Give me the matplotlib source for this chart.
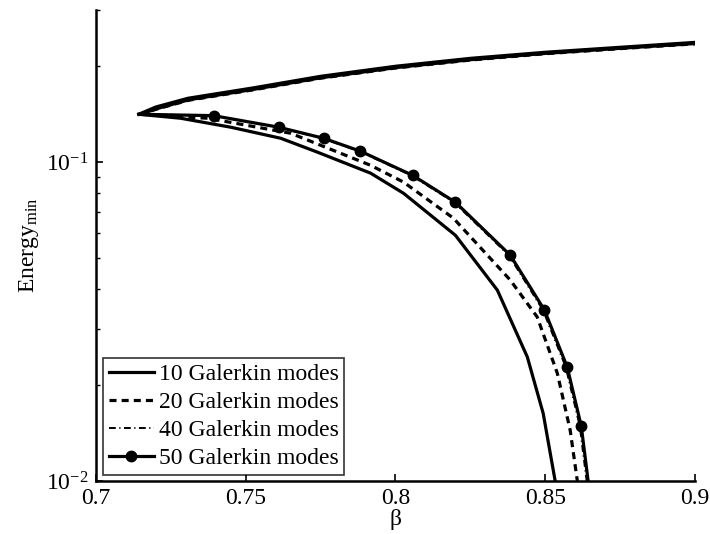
import matplotlib
matplotlib.use("Agg")
import matplotlib.pyplot as plt
from matplotlib.ticker import FixedLocator, LogLocator, NullFormatter

plt.rcParams['font.family'] = ['Liberation Serif', 'DejaVu Serif']
plt.rcParams['mathtext.fontset'] = 'custom'
plt.rcParams['mathtext.rm'] = 'Liberation Serif'
plt.rcParams['mathtext.it'] = 'Liberation Serif:italic'

# ---- data ----
beta_10 = [0.7143, 0.7283, 0.745, 0.7617, 0.774, 0.7917, 0.8027, 0.82, 0.834, 0.844, 0.8493, 0.8533, 0.8545]
E_10 = [0.1414, 0.1374, 0.1288, 0.1189, 0.1075, 0.0924, 0.0799, 0.0590, 0.0397, 0.0245, 0.0163, 0.0100, 0.0085]
beta_10_up = [0.7143, 0.7200, 0.7307, 0.7527, 0.775, 0.800, 0.825, 0.850, 0.875, 0.9]
E_10_up = [0.1414, 0.1490, 0.1587, 0.1712, 0.1860, 0.2000, 0.2118, 0.2213, 0.2294, 0.2377]

beta_20_up = [0.7147, 0.7210, 0.7310, 0.7530, 0.775, 0.800, 0.825, 0.850, 0.875, 0.9]
E_20_up = [0.1414, 0.1475, 0.1565, 0.1690, 0.1835, 0.1975, 0.2092, 0.2190, 0.2272, 0.2352]
beta_20 = [0.7147, 0.7373, 0.765, 0.7917, 0.8027, 0.8193, 0.8383, 0.8473, 0.854, 0.8583, 0.8607, 0.8615]
E_20 = [0.1414, 0.1374, 0.1233, 0.0978, 0.0866, 0.0668, 0.0427, 0.0327, 0.0218, 0.01445, 0.0100, 0.0090]

beta_40_up = [0.7147, 0.7210, 0.7310, 0.7530, 0.775, 0.800, 0.825, 0.850, 0.875, 0.9]
E_40_up = [0.1414, 0.1478, 0.1570, 0.1695, 0.1840, 0.1980, 0.2097, 0.2195, 0.2277, 0.2357]
beta_40 = [0.7147, 0.7390, 0.7605, 0.7755, 0.7878, 0.8052, 0.8195, 0.8378, 0.8492, 0.8568, 0.8615, 0.8638, 0.8645]
E_40 = [0.1414, 0.1400, 0.1288, 0.1189, 0.1083, 0.0910, 0.0749, 0.0511, 0.0344, 0.0228, 0.01488, 0.0100, 0.0090]

beta_50_up = [0.7147, 0.7210, 0.7310, 0.7530, 0.775, 0.800, 0.825, 0.850, 0.875, 0.9]
E_50_up = [0.1414, 0.1478, 0.1570, 0.1695, 0.1840, 0.1980, 0.2097, 0.2195, 0.2277, 0.2357]
beta_50 = [0.7393, 0.761, 0.776, 0.7883, 0.8057, 0.82, 0.8383, 0.8497, 0.8573, 0.862, 0.8643, 0.8650]
E_50 = [0.1400, 0.1288, 0.1189, 0.1083, 0.0910, 0.0749, 0.0511, 0.0344, 0.0228, 0.01488, 0.0100, 0.0090]

labels = ['10 Galerkin modes', '20 Galerkin modes', '40 Galerkin modes', '50 Galerkin modes']
xticks = [0.7, 0.75, 0.8, 0.85, 0.9]
xticklabels = ['0.7', '0.75', '0.8', '0.85', '0.9']

fig = plt.figure(figsize=(7.10, 5.34), dpi=100)
ax = fig.add_axes([0.135, 0.0993, 0.844, 0.8817])

lw = 2.3
dash = (0, (2.2, 1.6))
dashdot = (0, (3.5, 1.8, 0.6, 1.8))
ax.plot(beta_10_up, E_10_up, color='black', lw=lw, ls='-', label=labels[0])
ax.plot(beta_10, E_10, color='black', lw=lw, ls='-')
ax.plot(beta_20_up, E_20_up, color='black', lw=lw, ls=dash, label=labels[1])
ax.plot(beta_20, E_20, color='black', lw=lw, ls=dash)
ax.plot(beta_40_up, E_40_up, color='black', lw=1.4, ls=dashdot, label=labels[2])
ax.plot(beta_40, E_40, color='black', lw=1.4, ls=dashdot)
ax.plot(beta_50_up, E_50_up, color='black', lw=lw, ls='-')
ax.plot([beta_50_up[0]] + beta_50, [E_50_up[0]] + E_50, color='black', lw=lw, ls='-',
        marker='o', markersize=7.5, markevery=list(range(1, len(beta_50) - 1)), label=labels[3])

ax.set_yscale('log')
ax.set_xlim(0.7, 0.9)
ax.set_ylim(0.01, 0.3)
ax.xaxis.set_major_locator(FixedLocator(xticks))
ax.set_xticklabels(xticklabels)
ax.yaxis.set_major_locator(LogLocator(base=10))
ax.yaxis.set_minor_locator(LogLocator(base=10, subs=range(2, 10)))
ax.yaxis.set_minor_formatter(NullFormatter())

for s in ['top', 'right']:
    ax.spines[s].set_visible(False)
for s in ['left', 'bottom']:
    ax.spines[s].set_linewidth(1.8)
ax.tick_params(axis='both', which='major', direction='in', length=5, width=1.2, labelsize=17, pad=5)
ax.tick_params(axis='both', which='minor', direction='in', length=3, width=1.0)
ax.tick_params(top=False, right=False, which='both')

ax.set_xlabel('β', fontsize=17, labelpad=0)
ax.set_ylabel(r'Energy$_{\mathrm{min}}$', fontsize=17, labelpad=4)

leg = ax.legend(loc='lower left', bbox_to_anchor=(0.012, 0.013), borderaxespad=0,
                fontsize=17, frameon=True, fancybox=False, edgecolor='black',
                handlelength=1.9, handletextpad=0.2, labelspacing=0.27, borderpad=0.25)
leg.get_frame().set_linewidth(1.2)

fig.savefig('out.png', dpi=100)
